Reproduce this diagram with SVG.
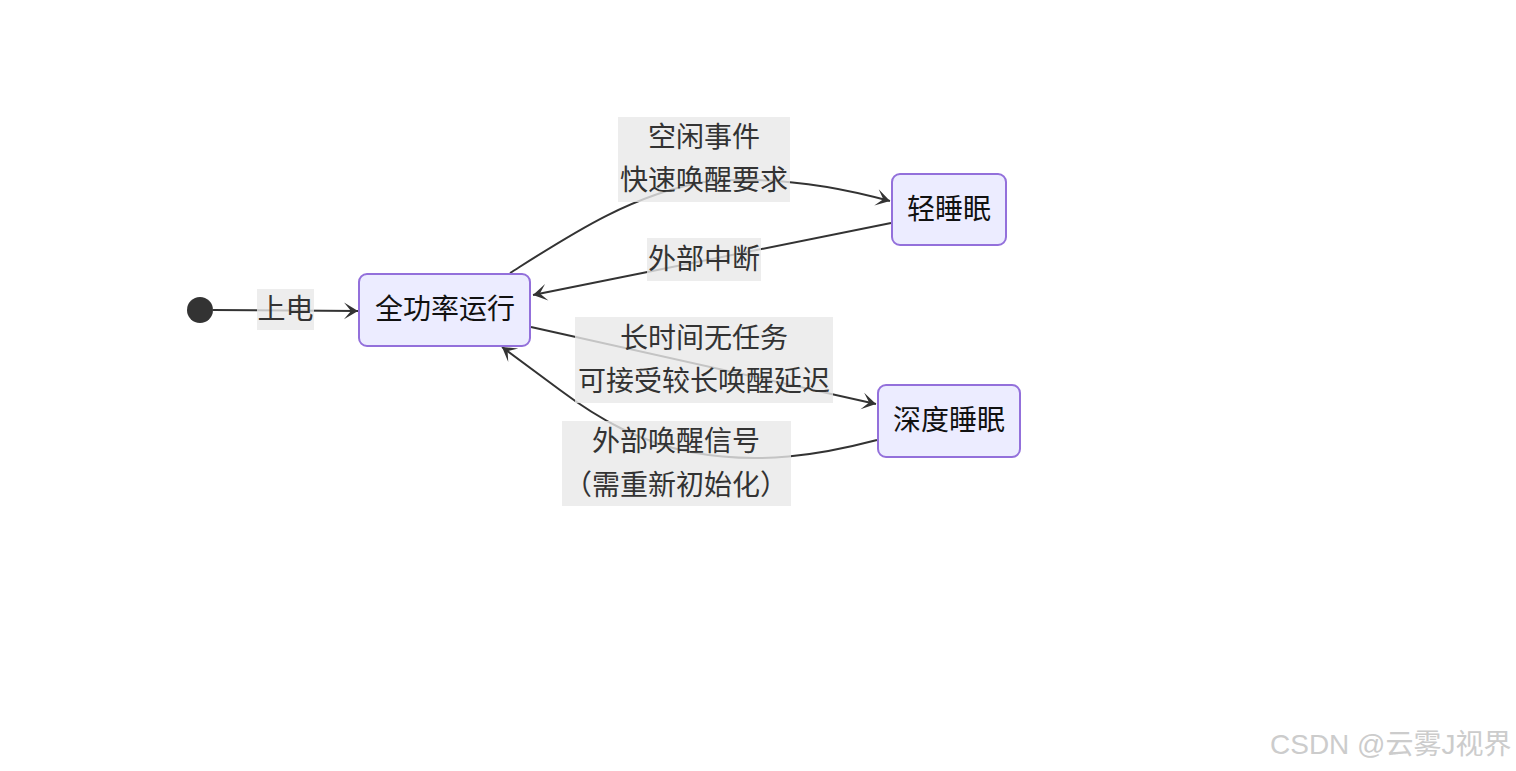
<svg xmlns="http://www.w3.org/2000/svg" width="1516" height="771" viewBox="0 0 1516 771">
<style>
text{font-family:"Noto Sans CJK SC","Noto Sans",sans-serif;font-size:28px;text-anchor:middle;dominant-baseline:central}
.node rect{fill:#ECECFF;stroke:#9370DB;stroke-width:2}
.node text{fill:#111}
.edge{fill:none;stroke:#333;stroke-width:2;marker-end:url(#barb)}
.lbl rect{fill:#e8e8e8;fill-opacity:0.8}
.lbl text{fill:#333}
.wm{fill:#ccc;font-size:28px;text-anchor:start;font-family:"Liberation Sans","Noto Sans CJK SC",sans-serif}
</style>
<defs>
<marker id="barb" viewBox="0 0 20 14" refX="19" refY="7" markerWidth="28" markerHeight="20" markerUnits="userSpaceOnUse" orient="auto">
<path d="M19,7 L9,13 L14,7 L9,1 Z" fill="#333"/>
</marker>
</defs>
<rect width="1516" height="771" fill="#fff"/>
<g id="connectors">
<path class="edge" d="M213,310 L358,311"/>
<path class="edge" d="M510,273 C570,235 630,195 704,182 C780,174 850,190 890,201"/>
<path class="edge" d="M891,223 L533,295"/>
<path class="edge" d="M531,327 L876,404"/>
<path class="edge" d="M877,440 C820,455 760,465 690,452 C640,442 600,420 560,390 L502,347"/>
</g>
<g id="labels">
<g class="lbl"><rect x="257" y="289" width="57" height="41"/><text x="285.5" y="307">上电</text></g>
<g class="lbl"><rect x="618" y="117" width="172" height="85"/><text x="704" y="135">空闲事件</text><text x="704" y="178">快速唤醒要求</text></g>
<g class="lbl"><rect x="647" y="238" width="114" height="43"/><text x="704" y="257">外部中断</text></g>
<g class="lbl"><rect x="575" y="317" width="258" height="86"/><text x="704" y="336">长时间无任务</text><text x="704" y="379">可接受较长唤醒延迟</text></g>
<g class="lbl"><rect x="562" y="421" width="229" height="85"/><text x="676" y="439">外部唤醒信号</text><text x="676" y="483">（需重新初始化）</text></g>
</g>
<g id="start"><circle cx="200" cy="310" r="13" fill="#333"/></g>
<g id="full" class="node"><rect x="359" y="274" width="171" height="72" rx="8"/><text x="445" y="307">全功率运行</text></g>
<g id="light" class="node"><rect x="892" y="174" width="114" height="71" rx="8"/><text x="949" y="207">轻睡眠</text></g>
<g id="deep" class="node"><rect x="878" y="385" width="142" height="72" rx="8"/><text x="949" y="418">深度睡眠</text></g>
<text class="wm" x="1270" y="744">CSDN @云雾J视界</text>
</svg>
